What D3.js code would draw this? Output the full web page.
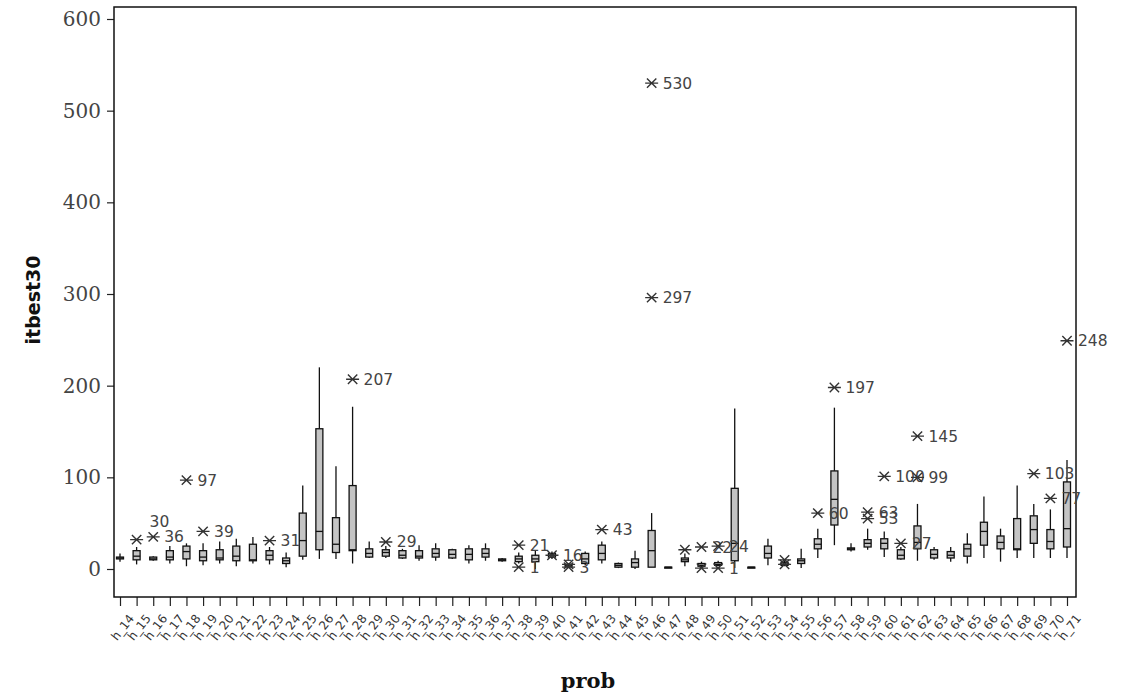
<!DOCTYPE html>
<html><head><meta charset="utf-8">
<script src="https://cdn.jsdelivr.net/npm/d3@7"></script>
<style>body{margin:0;background:#fff}svg{display:block}</style>
</head><body>
<script>
const categories = ["h_14","h_15","h_16","h_17","h_18","h_19","h_20","h_21","h_22","h_23","h_24","h_25","h_26","h_27","h_28","h_29","h_30","h_31","h_32","h_33","h_34","h_35","h_36","h_37","h_38","h_39","h_40","h_41","h_42","h_43","h_44","h_45","h_46","h_47","h_48","h_49","h_50","h_51","h_52","h_53","h_54","h_55","h_56","h_57","h_58","h_59","h_60","h_61","h_62","h_63","h_64","h_65","h_66","h_67","h_68","h_69","h_70","h_71"];
const whiskerLow = [8,5,9,6,3,4,6,3,6,5,2,10,11,11,6,12,12,11,9,9,11,6,9,8,6,0,11,2,4,6,1,0,2,2,3,2,3,1,2,4,3,1,12,26,19,21,13,10,9,10,8,6,12,8,12,12,12,12];
const q1 = [11,10,10,10,11,9,10,9,9,10,6,14,21,18,20,13,14,12,12,13,12,10,13,9,8,8,13,3,6,10,2,2,2,2,8,3,4,9,2,12,4,6,22,48,21,24,22,11,22,12,12,14,26,22,21,28,22,24];
const median = [12,14,11,13,19,13,12,14,10,15,9,31,41,27,21,17,18,15,14,17,16,16,17,10,11,11,15,4,11,17,4,7,20,2,10,4,5,28,2,17,5,9,27,76,22,28,28,15,29,16,15,22,41,29,22,43,30,44];
const q3 = [13,20,13,20,25,20,21,25,27,20,12,61,153,56,91,22,21,20,20,22,21,22,22,11,14,15,17,5,17,26,6,11,42,2,12,6,7,88,2,25,7,11,33,107,23,32,33,21,47,21,19,27,51,36,55,58,43,95];
const whiskerHigh = [17,24,14,25,28,28,30,33,35,24,18,91,220,112,177,30,25,22,26,28,22,26,28,12,18,20,19,6,19,30,7,20,61,2,17,8,9,175,2,33,9,22,44,176,28,44,41,24,71,24,24,39,79,44,91,71,65,119];
const outlierCat = ["h_15","h_16","h_18","h_19","h_23","h_28","h_30","h_38","h_38","h_40","h_41","h_41","h_43","h_46","h_46","h_48","h_49","h_49","h_50","h_50","h_54","h_54","h_56","h_57","h_59","h_59","h_60","h_61","h_62","h_62","h_69","h_70","h_71"];
const outlierVal = [32,35,97,41,31,207,29.5,26,2,15,5,2,43,296,530,21,24,1,25,1,10,5,61,198,62,55,101,28,100,145,104,77,249];
const outlierLabel = ["30","36","97","39","31","207","29","21","1","16","","3","43","297","530","","22","","24","1","","","60","197","63","53","100","27","99","145","103","77","248"];
const yTicks = [0,100,200,300,400,500,600];

// label nudges (layout only)
const labelNudge = {"30":[2,-18]};

const W = 1123, H = 698;
const frame = {left:114, right:1076, top:7, bottom:597};
const svg = d3.select("body").append("svg").attr("width",W).attr("height",H);

const x = d3.scalePoint().domain(categories).range([120,1067]);
const y = d3.scaleLinear().domain([0,600]).range([569,19]);

// y axis
const ya = svg.append("g").attr("transform",`translate(${frame.left},0)`)
  .call(d3.axisLeft(y).tickValues(yTicks).tickSize(7).tickPadding(6));
ya.select(".domain").remove();
ya.selectAll(".tick line").attr("stroke","#222").attr("stroke-width",1.2);
ya.selectAll(".tick text").attr("font-family","'DejaVu Serif'").attr("font-size",20).attr("fill","#444");

// x axis
const xa = svg.append("g").attr("transform",`translate(0,${frame.bottom})`)
  .call(d3.axisBottom(x).tickSize(9).tickPadding(3));
xa.select(".domain").remove();
xa.selectAll(".tick line").attr("stroke","#222").attr("stroke-width",1.2);
xa.selectAll(".tick text").attr("font-family","'DejaVu Sans'").attr("font-size",12).attr("fill","#333")
  .attr("text-anchor","end").attr("dy","0.3em")
  .attr("transform","translate(2,12) rotate(-52)");

// frame
svg.append("rect").attr("x",frame.left).attr("y",frame.top)
  .attr("width",frame.right-frame.left).attr("height",frame.bottom-frame.top)
  .attr("fill","none").attr("stroke","#111").attr("stroke-width",1.5);

const bw = 7;
const g = svg.append("g");
categories.forEach((c,i)=>{
  const cx = x(c);
  g.append("line").attr("x1",cx).attr("x2",cx).attr("y1",y(whiskerHigh[i])).attr("y2",y(q3[i])).attr("stroke","#111").attr("stroke-width",1.3);
  g.append("line").attr("x1",cx).attr("x2",cx).attr("y1",y(q1[i])).attr("y2",y(whiskerLow[i])).attr("stroke","#111").attr("stroke-width",1.3);
  g.append("rect").attr("x",cx-bw/2).attr("y",y(q3[i])).attr("width",bw).attr("height",Math.max(1,y(q1[i])-y(q3[i])))
    .attr("fill","#c4c4c4").attr("stroke","#111").attr("stroke-width",1.3);
  g.append("line").attr("x1",cx-bw/2).attr("x2",cx+bw/2).attr("y1",y(median[i])).attr("y2",y(median[i])).attr("stroke","#111").attr("stroke-width",1.3);
});

function star(s){
  const d = s*0.72;
  return `M${-s},0L${s},0M${-d},${-d}L${d},${d}M${-d},${d}L${d},${-d}`;
}
outlierCat.forEach((c,i)=>{
  const cx = x(c), cy = y(outlierVal[i]);
  g.append("path").attr("d",star(6.5)).attr("transform",`translate(${cx},${cy})`)
    .attr("stroke","#333").attr("stroke-width",1.4).attr("fill","none");
  const lab = outlierLabel[i];
  if(lab){
    const n = labelNudge[lab]||[0,0];
    g.append("text").attr("x",cx+11+n[0]).attr("y",cy+5.5+n[1]).text(lab)
      .attr("font-family","'DejaVu Sans'").attr("font-size",15.5).attr("fill","#444");
  }
});

// axis titles
svg.append("text").attr("transform","translate(40,300) rotate(-90)").attr("text-anchor","middle")
  .attr("font-family","'DejaVu Sans'").attr("font-weight","bold").attr("font-size",19).attr("fill","#111").text("itbest30");
svg.append("text").attr("x",588).attr("y",688).attr("text-anchor","middle")
  .attr("font-family","'DejaVu Serif'").attr("font-weight","bold").attr("font-size",21).attr("fill","#111").text("prob");
</script>
</body></html>
